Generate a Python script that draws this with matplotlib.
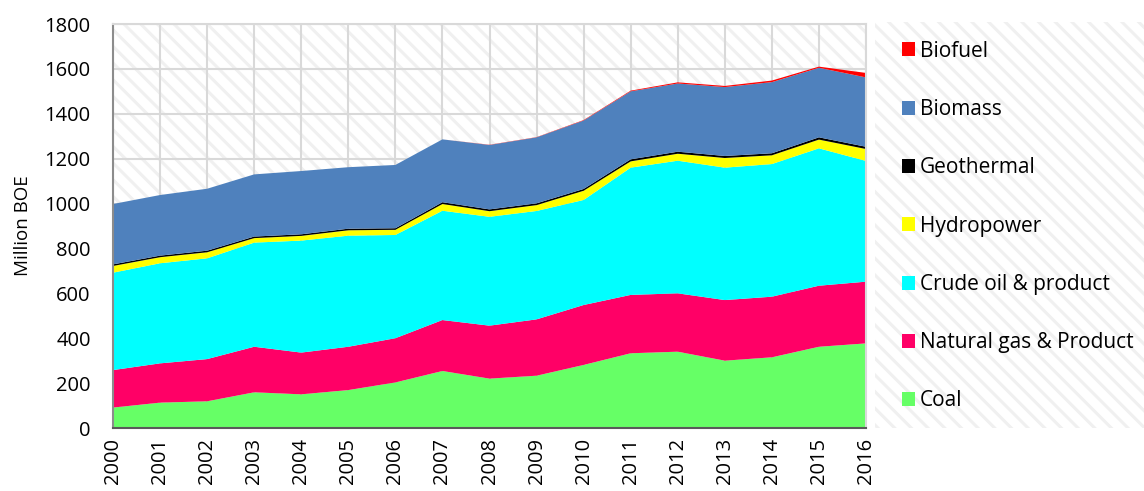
import numpy as np
import matplotlib.pyplot as plt
import matplotlib.patches as mpatches

years = list(range(2000, 2017))
coal = [91, 113, 119, 159, 150, 169, 203, 254, 220, 233, 281, 333, 340, 300, 315, 362, 377]
natural_gas = [167, 175, 188, 203, 186, 193, 197, 227, 236, 251, 267, 260, 260, 270, 270, 272, 275]
crude_oil = [434, 446, 449, 464, 499, 495, 460, 487, 485, 483, 468, 567, 591, 590, 591, 612, 538]
hydropower = [30, 27, 27, 20, 21, 24, 23, 30, 25, 26, 41, 28, 31, 43, 39, 39, 53]
geothermal = [7, 7, 7, 7, 7, 7, 7, 8, 8, 8, 8, 9, 9, 9, 9, 10, 10]
biomass = [269, 270, 276, 277, 282, 274, 282, 280, 287, 294, 305, 303, 304, 307, 317, 310, 309]
biofuel = [0, 0, 0, 0, 0, 0, 0, 0, 1, 1, 2, 3, 5, 5, 7, 5, 20]

labels = ['Coal', 'Natural gas & Product', 'Crude oil & product', 'Hydropower',
          'Geothermal', 'Biomass', 'Biofuel']
colors = ['#66ff66', '#ff0066', '#00ffff', '#ffff00', '#000000', '#4f81bd', '#ff0000']

plt.rcParams['hatch.linewidth'] = 2.2
plt.rcParams['font.family'] = 'Open Sans'
fs = 14.5

fig = plt.figure(figsize=(11.44, 4.91), dpi=100)
ax = fig.add_axes([113/1144, 63/491, 753/1144, 404/491])

# hatched background
bg = mpatches.Rectangle((0, 0), 1, 1, transform=ax.transAxes, facecolor='white',
                        edgecolor='#f0f0f0', hatch='\\\\', lw=0, zorder=0)
ax.add_patch(bg)

ax.stackplot(years, coal, natural_gas, crude_oil, hydropower, geothermal, biomass, biofuel,
             colors=colors, labels=labels, zorder=2, lw=0)

ax.set_xlim(2000, 2016)
ax.set_ylim(0, 1800)
ax.set_xticks(years)
ax.set_xticklabels([str(y) for y in years], rotation=90, fontsize=fs)
ax.set_yticks(range(0, 1801, 200))
ax.set_yticklabels([str(v) for v in range(0, 1801, 200)], fontsize=fs)
ax.tick_params(axis='y', length=0, pad=16)
ax.tick_params(axis='x', length=0, pad=7)
ax.grid(True, color='#d9d9d9', lw=1.5, zorder=1)
ax.set_axisbelow(True)
for s in ['top', 'right']:
    ax.spines[s].set_color('#d9d9d9')
    ax.spines[s].set_linewidth(1.5)
ax.spines['left'].set_color('#8c8c8c')
ax.spines['left'].set_linewidth(1.5)
ax.spines['bottom'].set_color('#595959')
ax.spines['bottom'].set_linewidth(1.5)
ax.set_ylabel('Million BOE', fontsize=13.5, labelpad=9)

# legend panel
lax = fig.add_axes([875/1144, 63/491, 269/1144, 406/491])
lax.set_axis_off()
lax.add_patch(mpatches.Rectangle((0, 0), 1, 1, transform=lax.transAxes, facecolor='white',
                                 edgecolor='#f0f0f0', hatch='\\\\', lw=0, zorder=0))
h, l = ax.get_legend_handles_labels()
leg = lax.legend(h[::-1], l[::-1], loc='upper left', bbox_to_anchor=(0.03, 1.0),
                 frameon=False, handlelength=0.65, handleheight=0.65, handletextpad=0.22,
                 labelspacing=1.79, prop={'family': 'Open Sans', 'size': 15})

fig.savefig('out.png', dpi=100)
